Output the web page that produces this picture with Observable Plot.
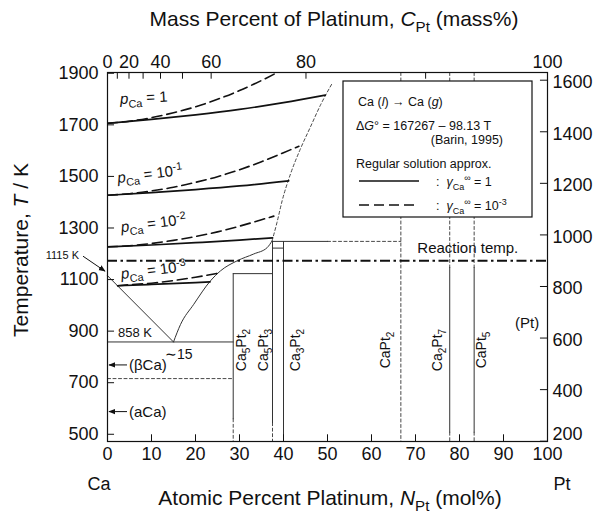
<!DOCTYPE html>
<html><head><meta charset="utf-8">
<script src="https://cdn.jsdelivr.net/npm/d3@7"></script>
<script src="https://cdn.jsdelivr.net/npm/@observablehq/plot@0.6"></script>
<style>
body{margin:0;background:#fff;}
#chart{width:595px;height:515px;}
svg text{font-family:"Liberation Sans",Arial,Helvetica,sans-serif;}
</style></head><body><div id="chart"></div>
<script>
// ---------- data (mol% Pt, K) ----------
const leftTicksK = [500, 700, 900, 1100, 1300, 1500, 1700, 1900];
const rightTicksC = [200, 400, 600, 800, 1000, 1200, 1400, 1600];
const bottomTicks = [0, 10, 20, 30, 40, 50, 60, 70, 80, 90, 100];
const topMassLabels = [0, 20, 40, 60, 80, 100];
const topMassTicks = [10, 20, 30, 40, 50, 60, 80];
const topExtraTickMol = [72.3];
const yDomain = [472, 1903];

// vapour-pressure curves, gamma = 1 (solid)
const pSolid1    = [[0,1706],[10,1721],[20,1739],[30,1760],[40,1786],[49.5,1815]];
const pSolid01   = [[0,1427],[10,1437],[20,1449],[30,1463],[41.2,1483]];
const pSolid001  = [[0,1227],[10,1234],[20,1243],[30,1253],[37.5,1262]];
const pSolid0001 = [[2.3,1076],[10,1081],[20,1088],[23.3,1091]];
// gamma = 1e-3 (dashed)
const pDash1    = [[0,1706],[5,1714],[10,1728],[15,1747],[20,1770],[25,1799],[30,1833],[35,1872],[38.6,1903]];
const pDash01   = [[0,1427],[5,1433],[10,1444],[15,1458],[20,1477],[25,1499],[30,1526],[35,1557],[40,1592],[43.5,1617]];
const pDash001  = [[0,1227],[5,1231],[10,1240],[15,1252],[20,1267],[25,1285],[30,1307],[35,1332],[37.8,1346]];
const pDash0001 = [[2.3,1076],[5,1080],[10,1086],[15,1096],[20,1109],[25.2,1125]];

// phase diagram
const liquidusLeft   = [[0,1115],[15,858]];
const liquidusRight  = [[15,858],[16.6,926],[19.6,1004],[23.4,1095],[25.7,1134],[29.5,1173],[33.2,1199],[36.3,1224],[37.4,1250]];
const liquidusExtrap = [[37.4,1250],[38.5,1320],[39.7,1406],[41.6,1510],[43.8,1605],[46.1,1691],[48.5,1780],[51.1,1862]];
const solidSegments = [
  [[0,858],[28.57,858]],
  [[28.57,1123],[37.5,1123]],
  [[37.5,1222],[40,1222]],
  [[37.5,1248],[50,1248]],
  [[28.57,1123],[28.57,560]],
  [[37.5,1248],[37.5,545]],
  [[40,1248],[40,472]],
  [[77.78,1147],[77.78,508]],
  [[83.33,1147],[83.33,508]]
];
const dashedSegments = [
  [[50,1248],[66.67,1248]],
  [[0,716],[28.57,716]],
  [[28.57,560],[28.57,472]],
  [[37.5,545],[37.5,472]],
  [[66.67,1903],[66.67,472]],
  [[77.78,1903],[77.78,1147]],
  [[77.78,508],[77.78,472]],
  [[83.33,1903],[83.33,1147]],
  [[83.33,508],[83.33,472]]
];
const reactionTempK = 1173;

const compoundNames = [["Ca","5","Pt","2"],["Ca","5","Pt","3"],["Ca","3","Pt","2"],["Ca","","Pt","2"],["Ca","2","Pt","7"],["Ca","","Pt","5"]];
const compoundLabelN = [30.4, 35.5, 42.7, 63.2, 75, 85.1];
const pLabels = [["1",""],["10","-1"],["10","-2"],["10","-3"]];
const pLabelPos = [[3.0,1779,-3],[2.5,1473,-7],[3.3,1282,-7],[3.3,1100,-7]];

// ---------- helpers ----------
const massToMol = w => w >= 100 ? 100 : (w/195.08)/((w/195.08)+((100-w)/40.08))*100;
const rows = (pts, id) => pts.map(([N,T]) => ({N, T, id}));
const vapSolid = [pSolid1,pSolid01,pSolid001,pSolid0001].flatMap((p,i)=>rows(p,"s"+i));
const vapDash  = [pDash1,pDash01,pDash001,pDash0001].flatMap((p,i)=>rows(p,"d"+i));
const phSolid  = solidSegments.flatMap((p,i)=>rows(p,"ps"+i)).concat(rows(liquidusLeft,"ll"));
const phDash   = dashedSegments.flatMap((p,i)=>rows(p,"pd"+i));
const topTickPos = topMassTicks.map(massToMol).concat(topExtraTickMol);
const rightLow = rightTicksC.filter(d => d === 200);
const rightRest = rightTicksC.filter(d => d !== 200);

const FS = 18;
const plot = Plot.plot({
  width: 595, height: 515,
  marginLeft: 107, marginRight: 48, marginTop: 72, marginBottom: 74,
  x: {domain: [0, 100], axis: null},
  y: {domain: yDomain, axis: null},
  style: {fontFamily: "'Liberation Sans', Arial, sans-serif", background: "white", overflow: "visible", color: "#111"},
  marks: [
    Plot.line(phSolid, {x: "N", y: "T", z: "id", stroke: "#333", strokeWidth: 1}),
    Plot.line(phDash, {x: "N", y: "T", z: "id", stroke: "#333", strokeWidth: 0.9, strokeDasharray: "3,2.5"}),
    Plot.line(rows(liquidusRight,"lr"), {x: "N", y: "T", stroke: "#333", strokeWidth: 1, curve: "monotone-x"}),
    Plot.line(rows(liquidusExtrap,"le"), {x: "N", y: "T", stroke: "#333", strokeWidth: 0.9, strokeDasharray: "3,2.5", curve: "monotone-x"}),
    Plot.ruleY([reactionTempK], {stroke: "#111", strokeWidth: 2.2, strokeDasharray: "10,3.5,2.5,3.5"}),
    Plot.line(vapSolid, {x: "N", y: "T", z: "id", stroke: "#111", strokeWidth: 1.7, curve: "monotone-x", clip: true}),
    Plot.line(vapDash, {x: "N", y: "T", z: "id", stroke: "#111", strokeWidth: 1.6, strokeDasharray: "10,5", curve: "monotone-x", clip: true}),
    Plot.frame({stroke: "#111", strokeWidth: 1.2}),
    // ticks (inward)
    Plot.ruleY(leftTicksK, {y: d => d, x1: 0, x2: 1.6, stroke: "#111"}),
    Plot.ruleY(rightTicksC, {y: d => d + 273.15, x1: 98.4, x2: 100, stroke: "#111"}),
    Plot.ruleX(bottomTicks, {x: d => d, y1: yDomain[0], y2: yDomain[0] + 26, stroke: "#111"}),
    Plot.ruleX(topTickPos, {x: d => d, y1: yDomain[1], y2: yDomain[1] - 26, stroke: "#111"}),
    // tick labels
    Plot.text(leftTicksK, {y: d => d, frameAnchor: "left", textAnchor: "end", dx: -9, text: d => String(d), fontSize: FS}),
    Plot.text(rightRest, {y: d => d + 273.15, frameAnchor: "right", textAnchor: "start", dx: 5, dy: 2, text: d => String(d), fontSize: FS}),
    Plot.text(rightLow, {y: d => d + 273.15, frameAnchor: "right", textAnchor: "start", dx: 5, dy: -7, text: d => String(d), fontSize: FS}),
    Plot.text(bottomTicks, {x: d => d, frameAnchor: "bottom", lineAnchor: "top", dy: 6, text: d => String(d), fontSize: FS}),
    Plot.text(topMassLabels, {x: massToMol, frameAnchor: "top", lineAnchor: "bottom", dy: -5, text: d => String(d), fontSize: FS})
  ]
});
document.getElementById("chart").appendChild(plot);

const xs = plot.scale("x"), ys = plot.scale("y");
const X = v => xs.apply(v), Y = v => ys.apply(v);
const svg = d3.select(plot);

svg.append("defs").append("marker").attr("id","arr").attr("viewBox","0 0 10 10")
  .attr("refX",9).attr("refY",5).attr("markerWidth",7).attr("markerHeight",7).attr("orient","auto")
  .append("path").attr("d","M0,1 L10,5 L0,9 Z").attr("fill","#111");

// rich text: parts = [[text, flags]] flags: i=italic, b=sub, p=sup
function rich(parent, parts, size, attrs = {}) {
  const t = parent.append("text").attr("font-size", size).attr("fill", "#111").attr("text-anchor", "start");
  for (const k in attrs) t.attr(k, attrs[k]);
  let shift = 0;
  for (const [s, f = ""] of parts) {
    const ts = t.append("tspan").text(s);
    let target = 0;
    if (f.includes("b")) { target = size * 0.28; ts.attr("font-size", size * 0.72); }
    if (f.includes("p")) { target = -size * 0.38; ts.attr("font-size", size * 0.72); }
    if (f.includes("i")) ts.attr("font-style", "italic");
    if (target !== shift) { ts.attr("dy", target - shift); shift = target; }
  }
  return t;
}
const g = svg.append("g").attr("text-anchor", "start");

// axis titles
rich(g, [["Mass Percent of Platinum, "],["C","i"],["Pt","b"],[" (mass%)"]], 21, {x: 334, y: 26, "text-anchor": "middle"});
rich(g, [["Atomic Percent Platinum, "],["N","i"],["Pt","b"],[" (mol%)"]], 21, {x: 330, y: 505, "text-anchor": "middle"});
rich(g, [["Temperature, "],["T","i"],[" / K"]], 21, {transform: "translate(28,250) rotate(-90)", "text-anchor": "middle"});
rich(g, [["Ca"]], FS, {x: 99, y: 490, "text-anchor": "middle"});
rich(g, [["Pt"]], FS, {x: 562, y: 490, "text-anchor": "middle"});

// pCa labels
pLabels.forEach(([b, e], i) => {
  const [N, T, rot] = pLabelPos[i];
  const parts = [["p","i"],["Ca","b"],[" = " + b]];
  if (e) parts.push([e, "p"]);
  rich(g, parts, 15, {transform: `translate(${X(N)},${Y(T)}) rotate(${rot})`});
});

// compound labels
compoundNames.forEach(([a, n1, b, n2], i) => {
  const parts = [[a]];
  if (n1) parts.push([n1, "b"]);
  parts.push([b]); parts.push([n2, "b"]);
  rich(g, parts, 14, {transform: `translate(${X(compoundLabelN[i])},${Y(825)}) rotate(-90)`, "text-anchor": "middle", y: 5});
});

// other annotations
rich(g, [["Reaction temp."]], 15, {x: X(82), y: Y(reactionTempK) - 7, "text-anchor": "middle"});
rich(g, [["(Pt)"]], 15, {x: X(95.5), y: Y(930) + 5, "text-anchor": "middle"});
rich(g, [["858 K"]], 13, {x: X(2.5), y: Y(858) - 4});
rich(g, [["\u223C15"]], 14, {x: X(16.3), y: Y(858) + 18, "text-anchor": "middle"});
rich(g, [["1115 K"]], 11, {x: X(0) - 28, y: Y(1115) - 16, "text-anchor": "end"});
g.append("line").attr("x1", X(0) - 24).attr("y1", Y(1115) - 19).attr("x2", X(0) - 2).attr("y2", Y(1115) - 4)
  .attr("stroke", "#111").attr("stroke-width", 1).attr("marker-end", "url(#arr)");
[["(\u03B2Ca)", 767], ["(aCa)", 586]].forEach(([s, T]) => {
  g.append("line").attr("x1", X(0) + 20).attr("y1", Y(T)).attr("x2", X(0) + 2).attr("y2", Y(T))
    .attr("stroke", "#111").attr("stroke-width", 1).attr("marker-end", "url(#arr)");
  rich(g, [[s]], 15, {x: X(0) + 22, y: Y(T) + 5});
});

// legend box
const L = svg.append("g").attr("text-anchor", "start");
L.append("rect").attr("x", 343).attr("y", 81).attr("width", 189).attr("height", 136)
  .attr("fill", "white").attr("stroke", "#111").attr("stroke-width", 1.2);
rich(L, [["Ca ("],["l","i"],[") \u2192 Ca ("],["g","i"],[")"]], 12.5, {x: 358, y: 106});
rich(L, [["\u0394"],["G","i"],["\u00B0 = 167267 \u2013 98.13 T"]], 12.5, {x: 356, y: 130});
rich(L, [["(Barin, 1995)"]], 12.5, {x: 503, y: 144, "text-anchor": "end"});
rich(L, [["Regular solution approx."]], 12.5, {x: 356, y: 168});
L.append("line").attr("x1", 359).attr("x2", 419).attr("y1", 181).attr("y2", 181).attr("stroke", "#111").attr("stroke-width", 1.7);
L.append("line").attr("x1", 359).attr("x2", 419).attr("y1", 205).attr("y2", 205).attr("stroke", "#111").attr("stroke-width", 1.7).attr("stroke-dasharray", "10,5");
rich(L, [[":  "],["\u03B3","i"],["Ca","b"],["\u221E","p"],[" = 1"]], 12.5, {x: 436, y: 186});
rich(L, [[":  "],["\u03B3","i"],["Ca","b"],["\u221E","p"],[" = 10"],["-3","p"]], 12.5, {x: 436, y: 210});
</script></body></html>
